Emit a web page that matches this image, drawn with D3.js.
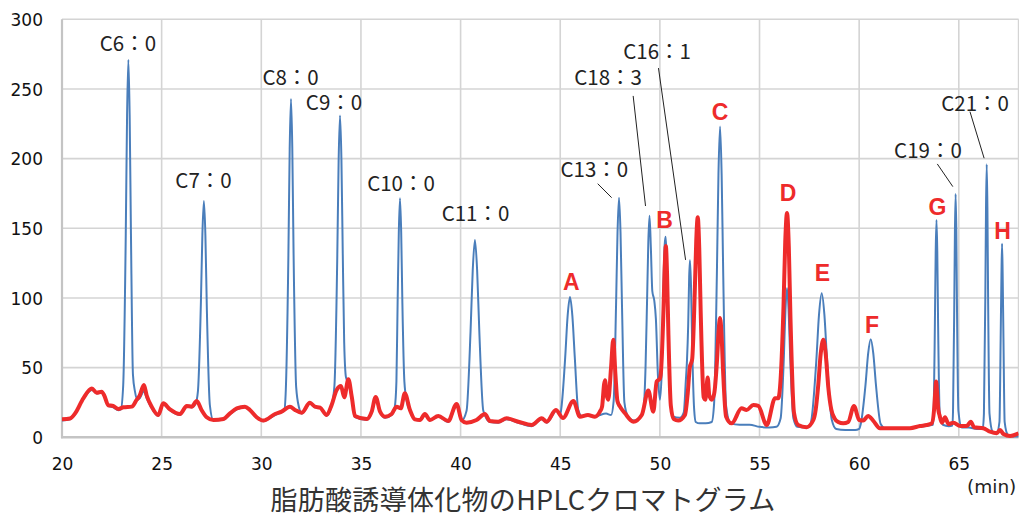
<!DOCTYPE html>
<html>
<head>
<meta charset="utf-8">
<script src="https://cdn.jsdelivr.net/npm/d3@7"></script>
<style>
  html, body { margin: 0; padding: 0; background: #fff; }
  svg { display: block; }
</style>
</head>
<body>
<svg id="chart"></svg>
<script>
// retention time (min), detector response
const xTicks = [20, 25, 30, 35, 40, 45, 50, 55, 60, 65];
const yTicks = [0, 50, 100, 150, 200, 250, 300];

// standard mixture (blue)
const blueTrace = [
  [20.0, 12], [20.4, 13], [20.65, 16.5], [21.07, 27.5], [21.5, 34], [21.74, 31.5], [21.99, 32], [22.12, 29.5],
  [22.32, 22.5], [22.57, 21.5], [22.83, 19.5], [22.95, 20],
  [23.07, 37], [23.2, 146], [23.265, 231], [23.33, 271], [23.395, 231], [23.46, 146], [23.56, 45], [23.66, 33], [23.8, 27],
  [23.9, 28], [24.11, 33], [24.25, 28], [24.5, 21], [24.83, 15.5], [25.08, 23.5], [25.42, 19.5], [25.92, 16],
  [26.26, 22], [26.51, 21.5], [26.7, 24],
  [26.82, 33], [26.97, 97], [27.045, 146], [27.12, 169.6], [27.195, 145], [27.27, 91], [27.42, 23], [27.6, 12],
  [28.1, 12.5], [28.43, 16.5], [28.77, 20], [29.18, 21.5], [29.43, 19], [29.77, 14], [30.1, 11.5], [30.69, 16],
  [31.02, 18], [31.15, 19],
  [31.23, 34], [31.36, 131], [31.425, 207], [31.49, 242.8], [31.555, 208], [31.62, 132], [31.75, 36], [31.9, 21],
  [32.03, 17], [32.44, 24], [32.69, 21.5], [32.95, 21], [33.28, 15.5], [33.53, 23],
  [33.67, 37], [33.81, 127], [33.88, 198], [33.95, 231], [34.02, 200], [34.09, 130], [34.16, 68], [34.25, 43],
  [34.4, 38], [34.55, 27], [34.7, 14.5],
  [35.29, 12.5], [35.54, 17.5], [35.74, 27], [35.96, 18], [36.21, 14], [36.54, 16], [36.7, 22],
  [36.78, 40], [36.84, 96], [36.9, 147], [36.96, 171.6], [37.02, 147], [37.08, 96], [37.18, 40], [37.31, 25], [37.46, 19],
  [37.71, 12.5], [37.96, 12], [38.21, 16], [38.46, 12], [38.88, 15], [39.38, 11], [39.8, 23], [40.05, 12],
  [40.3, 19], [40.5, 76], [40.61, 120], [40.72, 141.6], [40.83, 120], [40.94, 76], [41.14, 19], [41.47, 11],
  [41.89, 10.5], [42.31, 13], [42.9, 10.5], [43.57, 8], [44.07, 13], [44.32, 10.5], [44.82, 19], [45.0, 16],
  [45.08, 24], [45.25, 57.5], [45.37, 87], [45.49, 100.7], [45.61, 87], [45.73, 57.5], [45.9, 20], [46.1, 15],
  [46.39, 15.5], [46.74, 14.5], [47.0, 16], [47.3, 17], [47.55, 16],
  [47.68, 26], [47.8, 94], [47.875, 147], [47.95, 172], [48.025, 147], [48.1, 94], [48.22, 25], [48.4, 15],
  [48.7, 12], [49.0, 14], [49.18, 20],
  [49.28, 50], [49.36, 100], [49.42, 140], [49.48, 159], [49.55, 135], [49.62, 105], [49.72, 98], [49.8, 85],
  [49.9, 45], [50.0, 27], [50.1, 50], [50.18, 110], [50.24, 138], [50.29, 144], [50.35, 125], [50.42, 70],
  [50.52, 28], [50.65, 15],
  [51.0, 14], [51.2, 18], [51.3, 40], [51.36, 55], [51.42, 80], [51.47, 115], [51.51, 127], [51.56, 110],
  [51.63, 60], [51.72, 20], [51.8, 11], [52.0, 10], [52.3, 10], [52.6, 11],
  [52.72, 24], [52.86, 117], [52.94, 189], [53.02, 223], [53.1, 188], [53.18, 116], [53.32, 23], [53.55, 10],
  [54.0, 9], [54.5, 9], [55.0, 7.5], [55.5, 7], [55.85, 7.5],
  [56.06, 13.7], [56.22, 57], [56.3, 91], [56.38, 107], [56.46, 91], [56.54, 57], [56.7, 13.7], [56.9, 7.5],
  [57.3, 7], [57.5, 7.5],
  [57.62, 14], [57.85, 55], [57.985, 88], [58.12, 103.4], [58.255, 88], [58.39, 55], [58.62, 13], [58.85, 6],
  [59.3, 5.2], [59.8, 5.2], [60.0, 6],
  [60.08, 9.5], [60.32, 38], [60.45, 60], [60.58, 70.4], [60.71, 60], [60.84, 38], [61.08, 9.5], [61.3, 6.5],
  [61.9, 6.5], [62.5, 6.5], [63.0, 7.5], [63.5, 8.5], [63.7, 9],
  [63.74, 18], [63.8, 82], [63.84, 133], [63.88, 156], [63.92, 133], [63.96, 82], [64.04, 18], [64.2, 9],
  [64.5, 8], [64.68, 8.5],
  [64.71, 19], [64.77, 91], [64.805, 148], [64.84, 174.6], [64.875, 148], [64.91, 91], [64.98, 19], [65.15, 7],
  [65.5, 7], [65.9, 6], [66.2, 6],
  [66.26, 17], [66.33, 100], [66.365, 165], [66.4, 196], [66.435, 165], [66.47, 100], [66.54, 17], [66.7, 4],
  [66.9, 3], [67.04, 11], [67.1, 71], [67.14, 117], [67.17, 139], [67.2, 117], [67.24, 71], [67.3, 11],
  [67.45, 2], [67.7, 0.5], [68.0, 0.5]
];

// derivatised sample (red)
const redTrace = [
  [20.0, 13], [20.4, 13.5], [20.65, 17], [21.07, 28], [21.5, 35], [21.74, 32], [21.99, 32.7], [22.12, 30],
  [22.32, 23], [22.57, 22.5], [22.83, 20.3], [23.08, 21.5], [23.5, 22], [23.75, 27], [23.9, 30], [24.11, 37.5],
  [24.25, 30], [24.5, 22], [24.83, 16], [25.08, 24.4], [25.42, 20], [25.92, 16.7], [26.26, 22.5], [26.51, 22],
  [26.76, 26], [27.0, 19.6], [27.26, 14.4], [27.6, 12.4], [28.1, 13.1], [28.43, 17.2], [28.77, 20.8], [29.18, 22],
  [29.43, 19.6], [29.77, 14.4], [30.1, 12], [30.69, 16.7], [31.02, 18.4], [31.44, 22], [31.69, 19.6], [32.03, 17.7],
  [32.44, 24.8], [32.69, 22], [32.95, 21.3], [33.28, 16], [33.53, 23.2], [33.78, 34], [34.0, 36.8], [34.16, 28.7],
  [34.37, 41.6], [34.54, 29], [34.7, 15.3], [35.29, 13.1], [35.54, 18.4], [35.74, 29], [35.96, 18.4], [36.21, 14.8],
  [36.54, 16.7], [36.79, 22], [37.0, 20.8], [37.2, 31.6], [37.46, 19.6], [37.71, 12.9], [37.96, 12.4], [38.21, 16.7],
  [38.46, 12.4], [38.88, 15.3], [39.38, 11.7], [39.8, 23.9], [40.05, 12.4], [40.3, 10.5], [40.8, 12.4], [41.22, 16.7],
  [41.47, 11.7], [41.89, 11.2], [42.31, 13.6], [42.9, 11.2], [43.57, 8.8], [44.07, 13.6], [44.32, 11.2], [44.78, 19.6],
  [45.14, 13.9], [45.66, 26], [45.99, 14.8], [46.39, 16], [46.74, 14.8], [46.99, 18.4], [47.1, 22], [47.2, 38],
  [47.25, 41], [47.33, 30], [47.41, 27], [47.55, 50], [47.66, 70], [47.77, 45], [47.87, 26], [48.0, 22],
  [48.25, 17.2], [48.67, 11.2], [49.09, 16], [49.42, 33.5], [49.67, 18.4], [49.84, 40], [50.0, 42],
  [50.05, 46], [50.175, 88.5], [50.24, 121.5], [50.3, 137.3], [50.36, 117.5], [50.425, 76], [50.55, 22.6], [50.7, 13],
  [50.92, 12], [51.26, 16], [51.4, 32], [51.5, 50], [51.62, 56],
  [51.75, 104], [51.825, 141], [51.9, 158], [51.975, 136], [52.05, 89], [52.2, 28.6], [52.28, 27], [52.4, 43],
  [52.48, 30], [52.6, 27],
  [52.72, 31], [52.87, 56], [52.945, 76], [53.02, 85.6], [53.095, 73.5], [53.17, 48], [53.32, 15], [53.6, 10],
  [54.1, 20.8], [54.35, 19.6], [54.69, 23.2], [54.94, 22.5], [55.36, 8.8], [55.78, 28], [55.94, 28],
  [56.03, 36], [56.205, 94.5], [56.29, 140], [56.38, 161], [56.47, 136.5], [56.555, 84.5], [56.73, 17.6], [56.94, 8.8],
  [57.36, 7.2], [57.7, 12.4], [57.82, 20], [57.95, 38], [58.07, 60], [58.2, 70], [58.32, 60], [58.45, 36],
  [58.6, 20], [58.75, 14], [58.95, 11], [59.2, 10], [59.45, 11], [59.74, 22.5], [60.0, 12.4], [60.2, 12],
  [60.45, 15.3], [60.7, 12], [61.04, 6.5], [61.88, 6.5], [62.55, 6.5], [63.05, 8.1], [63.39, 8.8], [63.64, 10],
  [63.76, 20], [63.82, 33], [63.86, 40], [63.91, 32], [63.97, 20], [64.03, 16], [64.15, 10.5], [64.31, 14.4],
  [64.48, 9.5], [64.73, 10.5], [65.07, 8.1], [65.4, 8.1], [65.6, 11.2], [65.77, 7.2], [66.23, 6.5], [66.57, 4],
  [66.9, 2.9], [67.07, 5.2], [67.24, 2.4], [67.57, 1], [68.0, 2.9]
];

// peak names of the standard, with label anchor and leader end (data coords)
const stdLabels = [
  { text: "C6：0",  at: [23.31, 277], lead: null },
  { text: "C7：0",  at: [27.1, 179], lead: null },
  { text: "C8：0",  at: [31.47, 253], lead: null },
  { text: "C9：0",  at: [33.65, 235], lead: null },
  { text: "C10：0", at: [37.01, 176.5], lead: null },
  { text: "C11：0", at: [40.75, 155], lead: null },
  { text: "C13：0", at: [46.71, 187], lead: [[46.88, 182], [47.58, 172]] },
  { text: "C18：3", at: [47.4, 253], lead: [[48.66, 245], [49.28, 166]] },
  { text: "C16：1", at: [49.86, 271.4], lead: [[49.93, 265], [51.29, 127.3]] },
  { text: "C19：0", at: [63.45, 200.3], lead: [[63.92, 196.2], [64.7, 179.9]] },
  { text: "C21：0", at: [65.82, 234.2], lead: [[65.56, 233.7], [66.27, 200.3]] }
];
// sample peak letters
const sampleLabels = [
  { text: "A", at: [45.55, 105.7] },
  { text: "B", at: [50.24, 150] },
  { text: "C", at: [53.02, 227.8] },
  { text: "D", at: [56.43, 169.8] },
  { text: "E", at: [58.16, 112.2] },
  { text: "F", at: [60.64, 74.7] },
  { text: "G", at: [63.93, 159.6] },
  { text: "H", at: [67.2, 142.4] }
];

const W = 1019, H = 518;
const svg = d3.select("#chart").attr("width", W).attr("height", H);

const x = d3.scaleLinear().domain([20, 68]).range([62, 1018.6]);
const y = d3.scaleLinear().domain([0, 300]).range([437.3, 19.3]);

// grid
svg.append("g")
  .selectAll("line")
  .data(yTicks.filter(d => d > 0))
  .enter().append("line")
  .attr("x1", x(20)).attr("x2", x(68))
  .attr("y1", d => y(d)).attr("y2", d => y(d))
  .attr("stroke", "#d4d4d4").attr("stroke-width", 1.6);

svg.append("g")
  .selectAll("line")
  .data(xTicks.filter(d => d > 20).concat([68]))
  .enter().append("line")
  .attr("x1", d => x(d)).attr("x2", d => x(d))
  .attr("y1", y(0)).attr("y2", y(300))
  .attr("stroke", "#d4d4d4").attr("stroke-width", 1.6);

// axis lines
svg.append("line")
  .attr("x1", x(20)).attr("x2", x(20)).attr("y1", y(0) + 1).attr("y2", y(300))
  .attr("stroke", "#c4c4c4").attr("stroke-width", 2.2);
svg.append("line")
  .attr("x1", x(20) - 1).attr("x2", x(68)).attr("y1", y(0)).attr("y2", y(0))
  .attr("stroke", "#c4c4c4").attr("stroke-width", 2.6);

// tick labels
const yAxis = svg.append("g")
  .attr("transform", `translate(${x(20) - 19},0)`)
  .call(d3.axisLeft(y).tickValues(yTicks).tickSize(0).tickPadding(0));
yAxis.select(".domain").remove();
yAxis.selectAll("text")
  .attr("font-family", "DejaVu Sans").attr("font-size", 17).attr("fill", "#111")
  .attr("dy", "0.36em");

const xAxis = svg.append("g")
  .attr("transform", `translate(0,${y(0)})`)
  .call(d3.axisBottom(x).tickValues(xTicks).tickSize(0).tickPadding(0));
xAxis.select(".domain").remove();
xAxis.selectAll("text")
  .attr("font-family", "DejaVu Sans").attr("font-size", 17).attr("fill", "#111")
  .attr("y", 0).attr("dy", 33);

// traces
svg.append("clipPath").attr("id", "plot")
  .append("rect").attr("x", x(20)).attr("y", 0).attr("width", x(68) - x(20)).attr("height", y(0) + 1);

const line = d3.line()
  .x(d => x(d[0]))
  .y(d => y(d[1]))
  .curve(d3.curveMonotoneX);

svg.append("path")
  .datum(blueTrace)
  .attr("clip-path", "url(#plot)")
  .attr("d", line)
  .attr("fill", "none")
  .attr("stroke", "#4a7ebb")
  .attr("stroke-width", 2)
  .attr("stroke-linejoin", "round");

svg.append("path")
  .datum(redTrace)
  .attr("clip-path", "url(#plot)")
  .attr("d", line)
  .attr("fill", "none")
  .attr("stroke", "#ee2b2b")
  .attr("stroke-width", 4)
  .attr("stroke-linejoin", "round");

// annotations
const ann = svg.append("g");
stdLabels.forEach(l => {
  ann.append("text")
    .attr("x", x(l.at[0])).attr("y", y(l.at[1]))
    .attr("text-anchor", "middle")
    .attr("font-family", "Noto Sans CJK JP")
    .attr("font-size", 20.5)
    .attr("fill", "#222")
    .text(l.text);
  if (l.lead) {
    ann.append("line")
      .attr("x1", x(l.lead[0][0])).attr("y1", y(l.lead[0][1]))
      .attr("x2", x(l.lead[1][0])).attr("y2", y(l.lead[1][1]))
      .attr("stroke", "#222").attr("stroke-width", 1);
  }
});

sampleLabels.forEach(l => {
  ann.append("text")
    .attr("x", x(l.at[0])).attr("y", y(l.at[1]))
    .attr("text-anchor", "middle")
    .attr("font-family", "Liberation Sans, Arial, sans-serif")
    .attr("font-weight", "bold")
    .attr("font-size", 23)
    .attr("fill", "#ee2b2b")
    .text(l.text);
});

// axis titles
svg.append("text")
  .attr("x", 967).attr("y", 493)
  .attr("font-family", "DejaVu Sans").attr("font-size", 18.5).attr("fill", "#222")
  .text("(min)");

svg.append("text")
  .attr("x", 523).attr("y", 509.8)
  .attr("text-anchor", "middle")
  .attr("font-family", "Noto Sans CJK JP").attr("font-size", 27).attr("fill", "#333")
  .attr("letter-spacing", 0.3)
  .text("脂肪酸誘導体化物のHPLCクロマトグラム");
</script>
</body>
</html>
